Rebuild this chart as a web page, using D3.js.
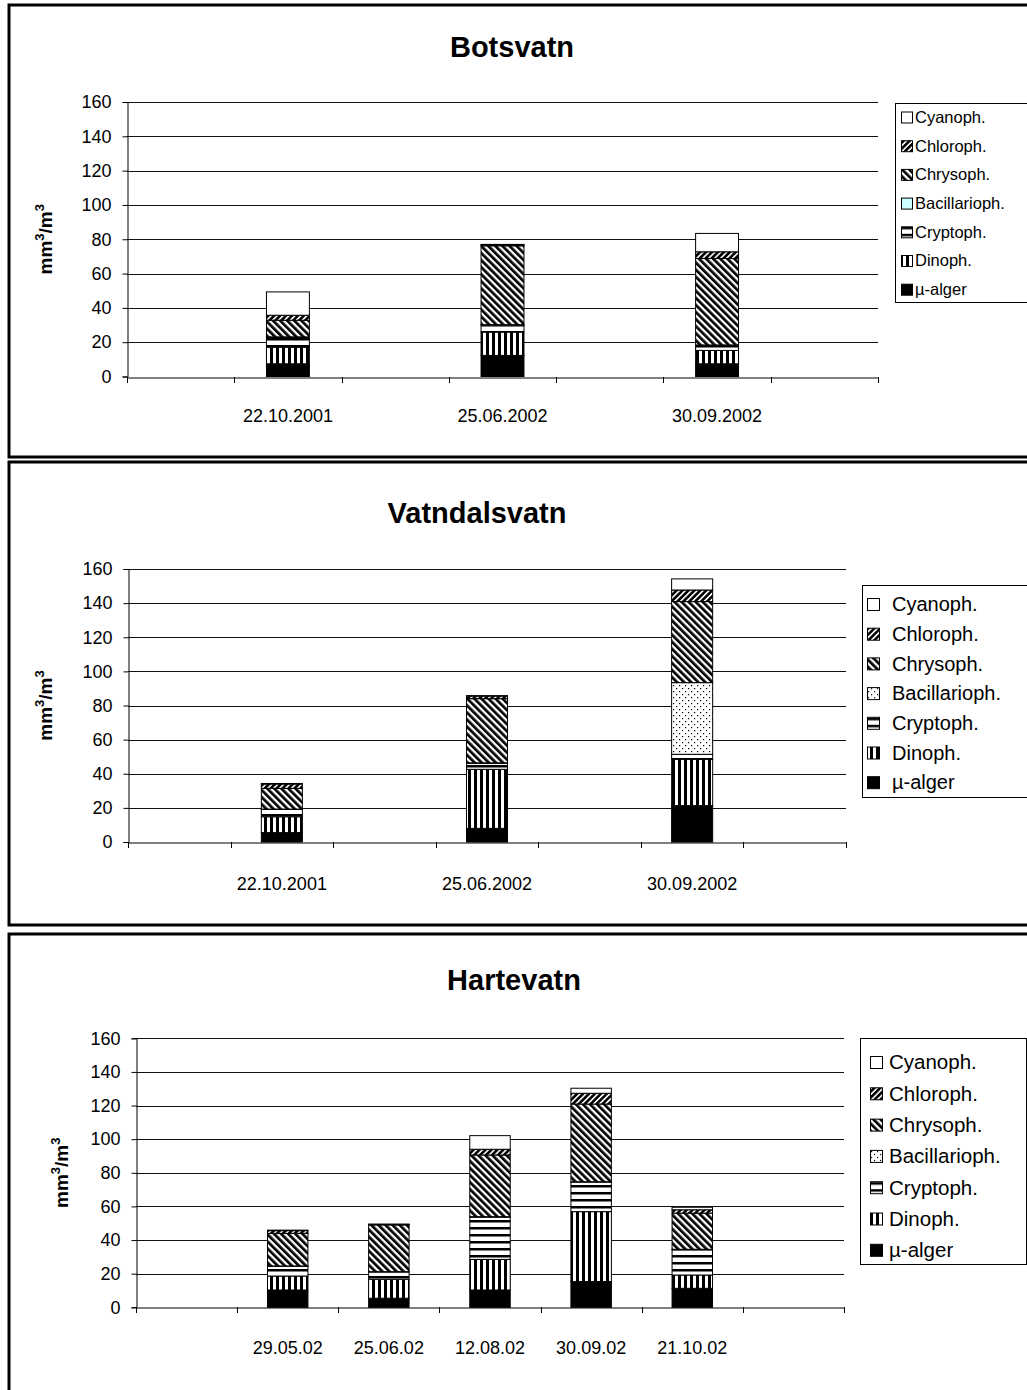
<!DOCTYPE html>
<html><head><meta charset="utf-8">
<script src="https://cdn.jsdelivr.net/npm/d3@7"></script>
<style>body{margin:0;background:#fff} svg{display:block} text{font-family:"Liberation Sans",Arial,sans-serif}</style>
</head><body>
<script>
// ---- DATA ----
const seriesKeys = ["mu","din","cry","bac","chrys","chloro","cyano"];
const seriesNames = ["µ-alger","Dinoph.","Cryptoph.","Bacillarioph.","Chrysoph.","Chloroph.","Cyanoph."];
const yTicks = [0,20,40,60,80,100,120,140,160];

const botsvatnSlots = ["", "22.10.2001", "", "25.06.2002", "", "30.09.2002", ""];
const botsvatnBars = [1,3,5];
// rows: mu, din, cry, bac, chrys, chloro, cyano
const botsvatnValues = [
  [7.4, 12.3, 7.4],
  [9.7, 13.6, 7.8],
  [5.5, 4.0, 2.9],
  [0.5, 0.3, 0.3],
  [9.7, 46.0, 50.4],
  [2.9, 0.5, 3.9],
  [13.6, 0.3, 10.7]
];

const vatndalSlots = ["", "22.10.2001", "", "25.06.2002", "", "30.09.2002", ""];
const vatndalBars = [1,3,5];
const vatndalValues = [
  [5.5, 8.0, 21.3],
  [9.3, 34.6, 27.2],
  [4.3, 3.5, 2.9],
  [0.2, 0.3, 42.0],
  [12.1, 37.6, 47.5],
  [2.6, 1.5, 6.8],
  [0.3, 0.3, 6.5]
];

const hartevatnSlots = ["", "29.05.02", "25.06.02", "12.08.02", "30.09.02", "21.10.02", ""];
const hartevatnBars = [1,2,3,4,5];
const hartevatnValues = [
  [10.3, 5.4, 10.3, 15.3, 11.3],
  [8.3, 11.3, 18.2, 41.6, 7.9],
  [5.8, 4.3, 25.1, 17.6, 15.1],
  [0.2, 0.2, 0.3, 0.2, 0.2],
  [19.4, 27.8, 36.7, 46.2, 21.5],
  [1.6, 0.3, 3.4, 6.4, 2.0],
  [0.3, 0.2, 8.1, 3.0, 1.5]
];

// ---- LAYOUT ----
const W = 1027, H = 1390;
const svg = d3.select("body").append("svg").attr("width", W).attr("height", H);
const defs = svg.append("defs");

function stripes(id, w, bw, rot) {
  const p = defs.append("pattern").attr("id", id).attr("patternUnits","userSpaceOnUse")
    .attr("width", w).attr("height", w);
  if (rot !== null) p.attr("patternTransform", `rotate(${rot})`);
  p.append("rect").attr("width", w).attr("height", w).attr("fill","#fff");
  p.append("rect").attr("width", bw).attr("height", w).attr("fill","#000");
}
stripes("pChrys", 5, 2.7, -45);
stripes("pChloro", 4.2, 2.6, 45);
stripes("pDin", 6, 3, null);
{ // horizontal stripes
  const p = defs.append("pattern").attr("id","pCry").attr("patternUnits","userSpaceOnUse").attr("width",6).attr("height",7);
  p.append("rect").attr("width",6).attr("height",7).attr("fill","#fff");
  p.append("rect").attr("y",2).attr("width",6).attr("height",2.5).attr("fill","#000");
}
{ // dots
  const p = defs.append("pattern").attr("id","pBac").attr("patternUnits","userSpaceOnUse").attr("width",6).attr("height",6);
  p.append("rect").attr("width",6).attr("height",6).attr("fill","#fff");
  p.append("rect").attr("x",1).attr("y",1).attr("width",1.2).attr("height",1.2).attr("fill","#000");
  p.append("rect").attr("x",4).attr("y",4).attr("width",1.2).attr("height",1.2).attr("fill","#000");
}

function fillFor(key, bacFill) {
  return {mu:"#000", din:"url(#pDin)", cry:"url(#pCry)", bac:bacFill, chrys:"url(#pChrys)", chloro:"url(#pChloro)", cyano:"#fff"}[key];
}

const charts = [
  {title:"Botsvatn", slots:botsvatnSlots, bars:botsvatnBars, values:botsvatnValues,
   panel:[9,5,1040,457], plot:{l:127,t:102,r:878,b:376.5}, titleX:512, titleY:57,
   yLabX:52, bacFill:"#CCFFFF", xLabY:421, tickFont:18, xFont:18,
   legend:{x0:895,y0:103,x1:1040,y1:302,first:117,step:28.7,sym:901,symSize:11,text:915,font:16.5}},
  {title:"Vatndalsvatn", slots:vatndalSlots, bars:vatndalBars, values:vatndalValues,
   panel:[9,462,1040,925], plot:{l:128,t:569,r:846,b:842}, titleX:477, titleY:523,
   yLabX:52, bacFill:"url(#pBac)", xLabY:889, tickFont:18, xFont:18,
   legend:{x0:862,y0:585,x1:1040,y1:797,first:604,step:29.7,sym:867,symSize:12,text:892,font:20}},
  {title:"Hartevatn", slots:hartevatnSlots, bars:hartevatnBars, values:hartevatnValues,
   panel:[9,934,1040,1400], plot:{l:136,t:1038.3,r:844,b:1307.3}, titleX:514, titleY:990,
   yLabX:68, bacFill:"url(#pBac)", xLabY:1353, tickFont:18, xFont:18,
   legend:{x0:860,y0:1038,x1:1026,y1:1264,first:1062,step:31.3,sym:870,symSize:12,text:889,font:20.5}}
];

charts.forEach(c => {
  const g = svg.append("g");
  const [px0,py0,px1,py1] = c.panel;
  g.append("rect").attr("x",px0).attr("y",py0).attr("width",px1-px0).attr("height",py1-py0)
    .attr("fill","#fff").attr("stroke","#000").attr("stroke-width",3);

  const P = c.plot;
  const x = d3.scaleBand().domain(d3.range(c.slots.length)).range([P.l, P.r]).padding(0);
  const y = d3.scaleLinear().domain([0,160]).range([P.b, P.t]);

  // gridlines
  g.append("g").selectAll("line").data(yTicks.filter(v=>v>0)).join("line")
    .attr("x1",P.l).attr("x2",P.r).attr("y1",d=>Math.round(y(d))+0.5).attr("y2",d=>Math.round(y(d))+0.5)
    .attr("stroke","#111").attr("stroke-width",1);

  // y axis
  const ya = g.append("g").attr("transform",`translate(${Math.round(P.l)+0.5},0)`)
    .call(d3.axisLeft(y).tickValues(yTicks).tickSize(5).tickPadding(11).tickFormat(d3.format("d")));
  ya.select(".domain").attr("stroke","#000");
  ya.selectAll(".tick line").attr("stroke","#000");
  ya.selectAll("text").attr("font-size",c.tickFont).attr("fill","#000").attr("font-family",'"Liberation Sans",Arial,sans-serif');

  // y label
  const yl = g.append("text").attr("transform",`translate(${c.yLabX},${(P.t+P.b)/2}) rotate(-90)`)
    .attr("text-anchor","middle").attr("font-weight","bold").attr("font-size",19);
  yl.append("tspan").text("mm");
  yl.append("tspan").text("3").attr("font-size",13).attr("dy",-8);
  yl.append("tspan").text("/m").attr("dy",8);
  yl.append("tspan").text("3").attr("font-size",13).attr("dy",-8);

  // bars
  const rows = c.bars.map((slot, j) => {
    const r = {slot};
    seriesKeys.forEach((k, i) => r[k] = c.values[i][j]);
    return r;
  });
  const stacked = d3.stack().keys(seriesKeys)(rows);
  const bw = x.bandwidth()*0.4;
  stacked.forEach(layer => {
    g.append("g").selectAll("rect").data(layer).join("rect")
      .attr("x", d => x(d.data.slot) + (x.bandwidth()-bw)/2)
      .attr("width", bw)
      .attr("y", d => y(d[1]))
      .attr("height", d => Math.max(0, y(d[0]) - y(d[1])))
      .attr("fill", fillFor(layer.key, c.bacFill))
      .attr("stroke","#000").attr("stroke-width",1);
  });

  // x axis
  const xa = g.append("g").attr("transform",`translate(0,${Math.round(P.b)+0.5})`)
    .call(d3.axisBottom(x).tickSize(0).tickPadding(0).tickFormat(i => c.slots[i]));
  xa.select(".domain").attr("stroke","#000");
  xa.selectAll("text").attr("font-size",c.xFont).attr("fill","#000").attr("dy",0)
    .attr("y", c.xLabY - Math.round(P.b)).attr("font-family",'"Liberation Sans",Arial,sans-serif');
  const bounds = d3.range(c.slots.length).map(i => x(i)).concat([P.r]);
  g.append("g").selectAll("line").data(bounds).join("line")
    .attr("x1",d=>Math.round(d)+0.5).attr("x2",d=>Math.round(d)+0.5)
    .attr("y1",Math.round(P.b)).attr("y2",Math.round(P.b)+6)
    .attr("stroke","#000");

  // title
  g.append("text").attr("x",c.titleX).attr("y",c.titleY).attr("text-anchor","middle")
    .attr("font-weight","bold").attr("font-size",29).text(c.title);

  // legend
  const L = c.legend;
  g.append("rect").attr("x",L.x0+0.5).attr("y",L.y0+0.5).attr("width",L.x1-L.x0).attr("height",L.y1-L.y0)
    .attr("fill","#fff").attr("stroke","#000").attr("stroke-width",1);
  const order = seriesKeys.map((k,i)=>i).reverse();
  const le = g.append("g").selectAll("g").data(order).join("g")
    .attr("transform",(d,i)=>`translate(0,${L.first + i*L.step})`);
  le.append("rect").attr("x",L.sym+0.5).attr("y",-L.symSize/2+0.5).attr("width",L.symSize).attr("height",L.symSize)
    .attr("fill",d=>fillFor(seriesKeys[d], c.bacFill)).attr("stroke","#000");
  le.append("text").attr("x",L.text).attr("y",0).attr("dy","0.36em").attr("font-size",L.font)
    .text(d=>seriesNames[d]);
});
</script>
</body></html>
